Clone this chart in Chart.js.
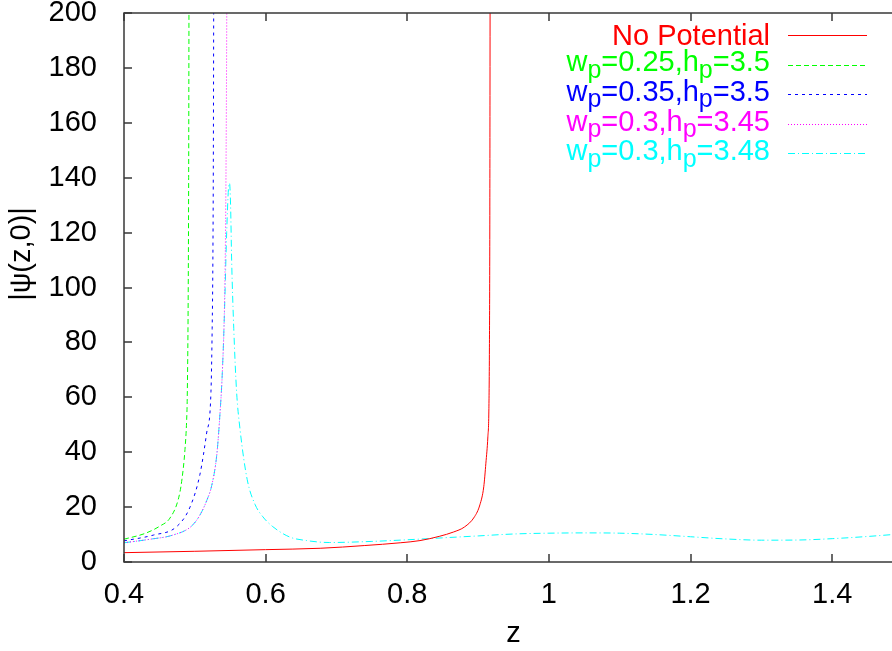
<!DOCTYPE html>
<html>
<head>
<meta charset="utf-8">
<script src="https://cdn.jsdelivr.net/npm/chart.js@4.4.0/dist/chart.umd.min.js"></script>
<style>
  html, body { margin: 0; padding: 0; background: #fff; overflow: hidden; }
  #wrap { width: 906px; height: 651px; }
</style>
</head>
<body>
<div id="wrap"><canvas id="psiChart" width="906" height="651"></canvas></div>
<script>
// axis ticks
const zTicks = [0.4, 0.6, 0.8, 1.0, 1.2, 1.4];
const psiTicks = [0, 20, 40, 60, 80, 100, 120, 140, 160, 180, 200];

// No Potential
const zNoPot   = [0.40, 0.50, 0.60, 0.677, 0.74, 0.79, 0.818, 0.846, 0.865, 0.881, 0.895, 0.9025, 0.908, 0.911, 0.9138, 0.9152, 0.916, 0.9165, 0.9168, 0.9172];
const psiNoPot = [3.4, 3.9, 4.5, 5.0, 6.0, 7.0, 7.8, 9.4, 10.9, 12.8, 16.5, 20.8, 27.4, 36, 45.6, 55, 78, 115, 170, 260];

// w_p=0.25, h_p=3.5
const zW25   = [0.400, 0.4296, 0.4508, 0.4649, 0.4766, 0.4814, 0.4861, 0.4885, 0.4893, 0.4906, 0.4913, 0.4918];
const psiW25 = [8.3, 10.4, 13.1, 16.0, 22.8, 29.3, 41, 52, 60, 95, 140, 210];

// w_p=0.35, h_p=3.5
const zW35   = [0.400, 0.4414, 0.4744, 0.4932, 0.5073, 0.5167, 0.5228, 0.5245, 0.5255, 0.5262, 0.5268];
const psiW35 = [7.7, 9.8, 12.9, 20, 32, 47, 62, 85, 110, 150, 220];

// w_p=0.3, h_p=3.45
const zH345   = [0.400, 0.437, 0.469, 0.495, 0.507, 0.517, 0.524, 0.531, 0.535, 0.539, 0.542, 0.5437, 0.5448, 0.5455];
const psiH345 = [7.0, 8.3, 9.8, 13, 17, 22.5, 28, 39, 52, 70, 95, 130, 180, 230];

// w_p=0.3, h_p=3.48
const zH348   = [0.400, 0.437, 0.469, 0.495, 0.507, 0.517, 0.524, 0.531, 0.535, 0.539, 0.542, 0.545, 0.5475, 0.549, 0.5505, 0.552, 0.555, 0.559, 0.564, 0.574, 0.585, 0.596, 0.610, 0.634, 0.658, 0.69, 0.75, 0.80, 0.85, 0.90, 0.95, 1.00, 1.05, 1.10, 1.15, 1.20, 1.25, 1.30, 1.35, 1.40, 1.45, 1.50];
const psiH348 = [7.0, 8.3, 9.8, 13, 17, 22.5, 28, 39, 52, 70, 92, 120, 136, 138, 130, 110, 85, 62, 48, 30, 21, 16.5, 12.9, 9.1, 7.8, 7.1, 7.5, 8.1, 8.8, 9.5, 10.2, 10.5, 10.6, 10.5, 10.0, 9.2, 8.4, 7.95, 8.0, 8.5, 9.3, 10.3];

const seriesLabels = ['No Potential', 'w_p=0.25,h_p=3.5', 'w_p=0.35,h_p=3.5', 'w_p=0.3,h_p=3.45', 'w_p=0.3,h_p=3.48'];
const seriesColors = ['#ff0000', '#00ff00', '#0000ff', '#ff00ff', '#00ffff'];
const seriesDashes = [[], [5, 3], [3, 4], [1, 2], [7, 3, 1, 3]];
const yTitle = '|ψ(z,0)|';

const FONT = '"Liberation Sans", Arial, Helvetica, sans-serif';

function toPoints(zs, ys) {
    return zs.map((z, i) => ({ x: z, y: ys[i] }));
}

const seriesData = [
    toPoints(zNoPot, psiNoPot),
    toPoints(zW25, psiW25),
    toPoints(zW35, psiW35),
    toPoints(zH345, psiH345),
    toPoints(zH348, psiH348)
];

// gnuplot style frame with inward ticks, mirrored on top/right
const gnuplotFrame = {
    id: 'gnuplotFrame',
    afterDatasetsDraw(chart) {
        const { ctx, chartArea: a, scales: { x, y } } = chart;
        ctx.save();
        ctx.strokeStyle = '#383838';
        ctx.lineWidth = 1.5;
        ctx.beginPath();
        x.ticks.forEach(t => {
            const px = Math.round(x.getPixelForValue(t.value));
            ctx.moveTo(px, a.bottom); ctx.lineTo(px, a.bottom - 8);
            ctx.moveTo(px, a.top); ctx.lineTo(px, a.top + 8);
        });
        y.ticks.forEach(t => {
            const py = Math.round(y.getPixelForValue(t.value));
            ctx.moveTo(a.left, py); ctx.lineTo(a.left + 8, py);
            ctx.moveTo(a.right, py); ctx.lineTo(a.right - 8, py);
        });
        ctx.stroke();
        ctx.strokeRect(a.left, a.top, a.right - a.left, a.bottom - a.top);

        // y axis label, sits a bit above the middle like gnuplot puts it
        ctx.fillStyle = '#000';
        ctx.font = '29px ' + FONT;
        ctx.textAlign = 'center';
        ctx.textBaseline = 'middle';
        ctx.translate(22, 254);
        ctx.rotate(-Math.PI / 2);
        ctx.fillText(yTitle, 0, 0);
        ctx.restore();
    }
};

// key with subscripts (w_p, h_p), text right aligned, sample line on the right
const subLegend = {
    id: 'subLegend',
    afterDraw(chart) {
        const { ctx, chartArea: a } = chart;
        const mainFont = '29px ' + FONT;
        const subFont = '25px ' + FONT;
        ctx.save();
        chart.data.datasets.forEach((ds, i) => {
            const lineY = a.top + 22 + i * 29.6;
            const parts = [];
            ds.label.split('_').forEach((seg, k) => {
                if (k === 0) { parts.push({ t: seg, sub: false }); return; }
                parts.push({ t: seg[0], sub: true });
                parts.push({ t: seg.slice(1), sub: false });
            });
            const hasSub = parts.some(p => p.sub);
            const base = lineY + (hasSub ? 6.7 : 10);
            let total = 0;
            parts.forEach(p => {
                ctx.font = p.sub ? subFont : mainFont;
                p.w = ctx.measureText(p.t).width;
                total += p.w;
            });
            let cx = a.right - 133 - total;
            ctx.fillStyle = ds.borderColor;
            ctx.textBaseline = 'alphabetic';
            ctx.textAlign = 'left';
            parts.forEach(p => {
                ctx.font = p.sub ? subFont : mainFont;
                ctx.fillText(p.t, cx, p.sub ? base + 6.5 : base);
                cx += p.w;
            });
            ctx.strokeStyle = ds.borderColor;
            ctx.lineWidth = 1;
            ctx.setLineDash(ds.borderDash);
            ctx.beginPath();
            ctx.moveTo(a.right - 115, Math.round(lineY) + 0.5);
            ctx.lineTo(a.right - 36, Math.round(lineY) + 0.5);
            ctx.stroke();
            ctx.setLineDash([]);
        });
        ctx.restore();
    }
};

new Chart(document.getElementById('psiChart'), {
    type: 'line',
    data: {
        datasets: seriesData.map((pts, i) => ({
            label: seriesLabels[i],
            data: pts,
            borderColor: seriesColors[i],
            borderDash: seriesDashes[i],
            borderWidth: 1,
            pointRadius: 0,
            fill: false,
            cubicInterpolationMode: 'monotone'
        }))
    },
    options: {
        responsive: false,
        animation: false,
        layout: { padding: { top: 0, right: 3, left: 0, bottom: 0 } },
        plugins: {
            legend: { display: false },
            tooltip: { enabled: false }
        },
        scales: {
            x: {
                type: 'linear',
                min: 0.4,
                max: 1.5,
                afterBuildTicks: scale => { scale.ticks = zTicks.map(v => ({ value: v })); },
                afterFit: scale => { scale.height = 89; scale.paddingLeft = 0; scale.paddingRight = 0; },
                grid: { display: false },
                border: { display: false },
                ticks: {
                    color: '#000',
                    font: { family: FONT, size: 29 },
                    padding: 8,
                    maxRotation: 0,
                    autoSkip: false,
                    callback: v => String(+v.toFixed(1))
                },
                title: {
                    display: true,
                    text: 'z',
                    color: '#000',
                    font: { family: FONT, size: 29 },
                    padding: { top: 0, bottom: 0 }
                }
            },
            y: {
                min: 0,
                max: 200,
                afterBuildTicks: scale => { scale.ticks = psiTicks.map(v => ({ value: v })); },
                afterFit: scale => { scale.width = 124; scale.paddingTop = 13; scale.paddingBottom = 0; },
                grid: { display: false },
                border: { display: false },
                ticks: {
                    color: '#000',
                    font: { family: FONT, size: 29 },
                    padding: 19,
                    autoSkip: false,
                    callback: v => String(v)
                },
                title: { display: false }
            }
        }
    },
    plugins: [gnuplotFrame, subLegend]
});
</script>
</body>
</html>
